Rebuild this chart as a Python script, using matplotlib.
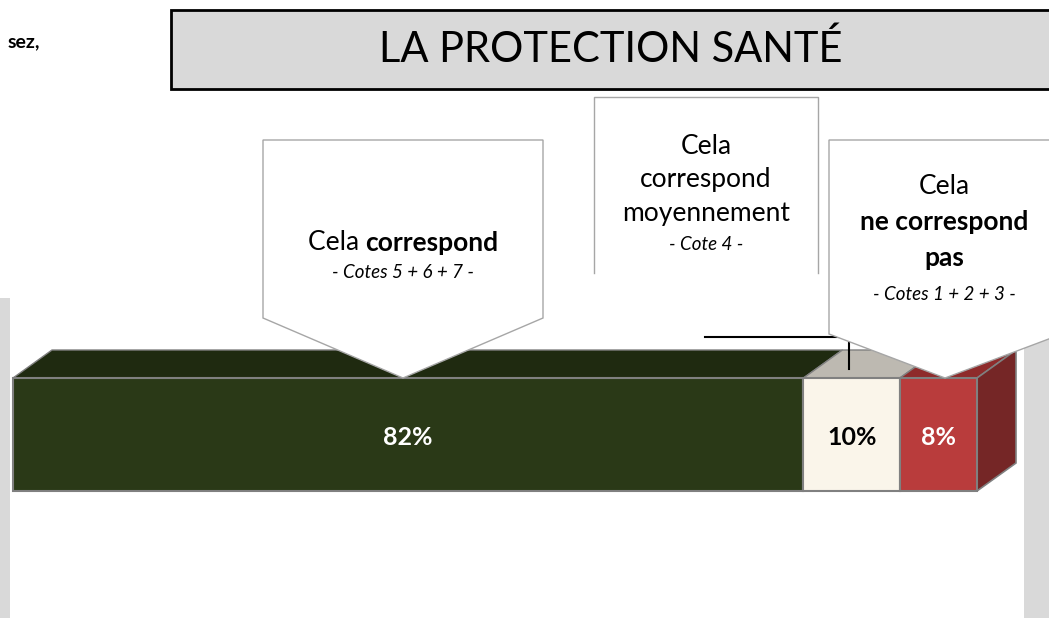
import matplotlib
matplotlib.use('Agg')
import matplotlib.pyplot as plt
from matplotlib.patches import Polygon, Rectangle

# Data
categories = ['Cela correspond', 'Cela correspond moyennement', 'Cela ne correspond pas']
values = [82, 10, 8]
labels = ['82%', '10%', '8%']
front_colors = ['#2a3917', '#faf5ea', '#b93c3c']
top_colors = ['#1f2a10', '#bdb9b1', '#8e2b2b']
side_color = '#752626'
label_colors = ['white', 'black', 'white']

plt.rcParams['font.family'] = ['Lato', 'DejaVu Sans']

W, H = 1049, 618
fig = plt.figure(figsize=(W / 100, H / 100), dpi=100)

# bar axes placed on the front face of the 3D bar (pixel coords -> fractions)
bx0, bx1, by0, by1 = 13, 977, 378, 491
axb = fig.add_axes([bx0 / W, 1 - by1 / H, (bx1 - bx0) / W, (by1 - by0) / H])
axb.set_xlim(0, 100)
axb.set_ylim(0, 1)
axb.axis('off')

dx = 39 / (bx1 - bx0) * 100   # depth offset in data units
dy = 28 / (by1 - by0)

left = 0
for v, lab, fc, tc, lc in zip(values, labels, front_colors, top_colors, label_colors):
    axb.barh(0.5, v, left=left, height=1, color=fc, edgecolor='#808080',
             linewidth=1.5, clip_on=False, zorder=3)
    top = Polygon([(left, 1), (left + v, 1), (left + v + dx, 1 + dy), (left + dx, 1 + dy)],
                  closed=True, facecolor=tc, edgecolor='#808080', linewidth=1.0,
                  clip_on=False, zorder=2)
    axb.add_patch(top)
    axb.text(left + v / 2, 0.47, lab, ha='center', va='center', color=lc,
             fontsize=18, fontweight='bold', zorder=5)
    left += v

side = Polygon([(left, 0), (left + dx, dy), (left + dx, 1 + dy), (left, 1)], closed=True,
               facecolor=side_color, edgecolor='#808080', linewidth=1.2, clip_on=False, zorder=2)
axb.add_patch(side)

# overlay axes in pixel coordinates
ax = fig.add_axes([0, 0, 1, 1], zorder=5)
ax.set_xlim(0, W)
ax.set_ylim(H, 0)
ax.axis('off')
ax.patch.set_alpha(0)

# side gray strips
ax.add_patch(Rectangle((0, 298), 10, 330, facecolor='#d9d9d9', edgecolor='none', zorder=1))
ax.add_patch(Rectangle((1024, 330), 40, 300, facecolor='#d9d9d9', edgecolor='none', zorder=1))

# title box
ax.add_patch(Rectangle((171, 10), 900, 79, facecolor='#d9d9d9', edgecolor='black',
                       linewidth=2, zorder=2))
ax.text(611, 49, 'LA PROTECTION SANTÉ', ha='center', va='center', fontsize=30, zorder=3)

ax.text(40, 42, 'sez,', ha='right', va='center', fontsize=14, fontweight='bold')

# leader line
ax.plot([705, 849, 849], [337, 337, 369], color='black', linewidth=1.5, zorder=2)

# callouts
ax.add_patch(Polygon([(263, 140), (543, 140), (543, 318), (403, 378), (263, 318)],
                     closed=True, facecolor='white', edgecolor='#a6a6a6', linewidth=1, zorder=3))
ax.add_patch(Rectangle((594, 97), 224, 176, facecolor='white', edgecolor='none', zorder=3))
ax.plot([594, 594, 818, 818], [273, 97, 97, 273], color='#a6a6a6', linewidth=1, zorder=3)
ax.add_patch(Polygon([(829, 140), (1062, 140), (1062, 334), (945, 378), (829, 334)],
                     closed=True, facecolor='white', edgecolor='#a6a6a6', linewidth=1, zorder=4))

fs_main = 19
fs_sub = 13.5

# left callout: mixed regular/bold line
r = fig.canvas.get_renderer()
t1 = ax.text(0, 243, 'Cela ', ha='left', va='center', fontsize=fs_main, zorder=6)
t2 = ax.text(0, 243, 'correspond', ha='left', va='center', fontsize=fs_main,
             fontweight='bold', zorder=6)
w1 = t1.get_window_extent(r).width
w2 = t2.get_window_extent(r).width
x_start = 403 - (w1 + w2) / 2
t1.set_x(x_start)
t2.set_x(x_start + w1)
ax.text(403, 273, '- Cotes 5 + 6 + 7 -', ha='center', va='center', fontsize=fs_sub,
        style='italic', zorder=6)

# middle callout
for txt, y in [('Cela', 147), ('correspond', 180), ('moyennement', 214)]:
    ax.text(706, y, txt, ha='center', va='center', fontsize=fs_main, zorder=6)
ax.text(706, 244, '- Cote 4 -', ha='center', va='center', fontsize=fs_sub, style='italic', zorder=6)

# right callout
ax.text(944, 187, 'Cela', ha='center', va='center', fontsize=fs_main, zorder=6)
ax.text(944, 222, 'ne correspond', ha='center', va='center', fontsize=fs_main,
        fontweight='bold', zorder=6)
ax.text(944, 258, 'pas', ha='center', va='center', fontsize=fs_main, fontweight='bold', zorder=6)
ax.text(944, 295, '- Cotes 1 + 2 + 3 -', ha='center', va='center', fontsize=fs_sub,
        style='italic', zorder=6)

fig.savefig('out.png', dpi=100)
